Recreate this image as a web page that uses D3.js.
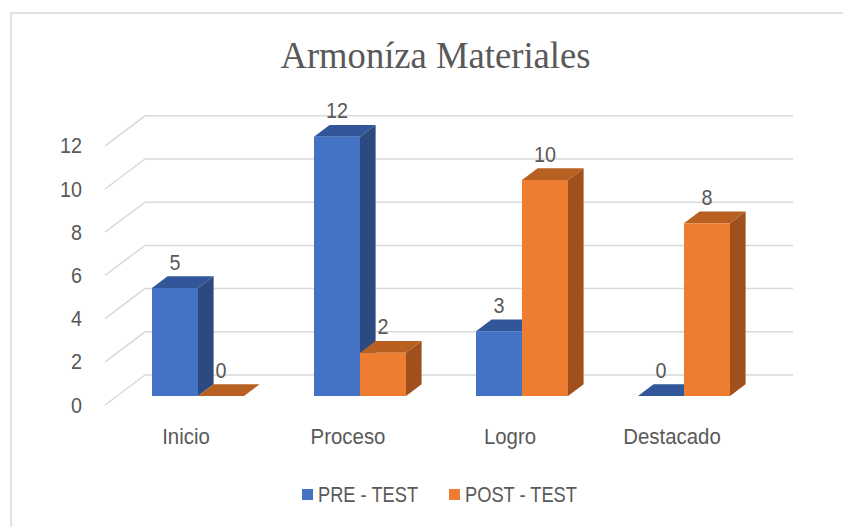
<!DOCTYPE html>
<html>
<head>
<meta charset="utf-8">
<script src="https://cdn.jsdelivr.net/npm/d3@7"></script>
<style>
  body { margin: 0; background: #fff; }
  text { fill: #595959; }
</style>
</head>
<body>
<div id="chart"></div>
<script>
// data
var categories = ["Inicio", "Proceso", "Logro", "Destacado"];
var seriesNames = ["PRE - TEST", "POST - TEST"];
var preTest = [5, 12, 3, 0];
var postTest = [0, 2, 10, 8];
var yTicks = [0, 2, 4, 6, 8, 10, 12];
var chartTitle = "Armoníza Materiales";

var w = 843, h = 527;
var vis = d3.select("#chart").append("svg").attr("width", w).attr("height", h);

// frame, runs off the right and bottom edge like the screenshot
vis.append("rect")
   .attr("x", 11).attr("y", 13).attr("width", w).attr("height", h)
   .attr("fill", "#fff").attr("stroke", "#d9d9d9").attr("stroke-width", 1.5);

// 3d-ish geometry
var left = 105, floorY = 405, depthX = 40, depthY = 30;
var z0 = 0.3, z1 = 0.69;   // bars sit between these depth fractions

var x = d3.scaleBand().domain(categories).range([left, left + 648]);
var xs = d3.scaleBand().domain(seriesNames).range([-46, 46]);
var y = d3.scaleLinear().domain([0, 12]).range([floorY, floorY - 259.2]);

function proj(px, py, z) { return [px + z * depthX, py - z * depthY]; }

var colors = {
  "PRE - TEST":  { front: "#4472c4", side: "#2c4a80", top: "#32569a" },
  "POST - TEST": { front: "#ed7d31", side: "#a0501c", top: "#b85f22" }
};

// gridlines: short diagonal on the side wall + line on the back wall
vis.selectAll("path.grid")
   .data(yTicks)
   .enter()
   .append("path")
   .attr("class", "grid")
   .attr("fill", "none")
   .attr("stroke", "#d9d9d9")
   .attr("stroke-width", 1.5)
   .attr("d", t => d3.line()([proj(left, y(t), 0), proj(left, y(t), 1), proj(x.range()[1], y(t), 1)]));

// y tick labels
vis.selectAll("text.ytick")
   .data(yTicks)
   .enter()
   .append("text")
   .attr("class", "ytick")
   .attr("text-anchor", "end")
   .attr("font-family", "Liberation Sans, Arial, sans-serif")
   .attr("font-size", 21.5)
   .attr("transform", t => "translate(82," + (y(t) + 7.5) + ") scale(0.92,1)")
   .text(t => t);

// bars
var bars = [];
categories.forEach(function(c, i) {
  bars.push({ cat: c, s: seriesNames[0], v: preTest[i] });
  bars.push({ cat: c, s: seriesNames[1], v: postTest[i] });
});

function poly(pts) { return d3.line()(pts) + "Z"; }

var g = vis.selectAll("g.bar")
   .data(bars)
   .enter()
   .append("g")
   .attr("class", "bar");

g.each(function(d) {
  var x0 = x(d.cat) + x.bandwidth() / 2 + xs(d.s);
  var x1 = x0 + xs.bandwidth();
  var yt = y(d.v), yb = y(0);
  var sel = d3.select(this);
  var col = colors[d.s];
  if (d.v > 0) {
    sel.append("path").attr("fill", col.side)
       .attr("d", poly([proj(x1, yt, z0), proj(x1, yt, z1), proj(x1, yb, z1), proj(x1, yb, z0)]));
  }
  sel.append("path").attr("fill", col.top)
     .attr("d", poly([proj(x0, yt, z0), proj(x1, yt, z0), proj(x1, yt, z1), proj(x0, yt, z1)]));
  if (d.v > 0) {
    sel.append("path").attr("fill", col.front)
       .attr("d", poly([proj(x0, yt, z0), proj(x1, yt, z0), proj(x1, yb, z0), proj(x0, yb, z0)]));
  }
  var lp = proj((x0 + x1) / 2, yt, z0);
  sel.append("text")
     .attr("text-anchor", "middle")
     .attr("font-family", "Liberation Sans, Arial, sans-serif")
     .attr("font-size", 21.5)
     .attr("transform", "translate(" + lp[0] + "," + (lp[1] - 18.5) + ") scale(0.92,1)")
     .text(d.v);
});

// category labels
vis.selectAll("text.cat")
   .data(categories)
   .enter()
   .append("text")
   .attr("class", "cat")
   .attr("text-anchor", "middle")
   .attr("font-family", "Liberation Sans, Arial, sans-serif")
   .attr("font-size", 21.5)
   .attr("transform", c => "translate(" + (x(c) + x.bandwidth() / 2) + ",444) scale(0.95,1)")
   .text(c => c);

// title
vis.append("text")
   .attr("text-anchor", "middle")
   .attr("font-family", "Liberation Serif, Times New Roman, serif")
   .attr("font-size", 37)
   .attr("transform", "translate(435.5,68) scale(0.99,1)")
   .text(chartTitle);

// legend
var legX = [302, 449];
var leg = vis.selectAll("g.legend")
   .data(seriesNames)
   .enter()
   .append("g")
   .attr("class", "legend")
   .attr("transform", (s, i) => "translate(" + legX[i] + ",489)");

leg.append("rect")
   .attr("width", 11).attr("height", 11)
   .attr("fill", s => colors[s].front);

leg.append("text")
   .attr("font-family", "Liberation Sans, Arial, sans-serif")
   .attr("font-size", 21.5)
   .attr("transform", "translate(16,13) scale(0.85,1)")
   .text(s => s);
</script>
</body>
</html>
